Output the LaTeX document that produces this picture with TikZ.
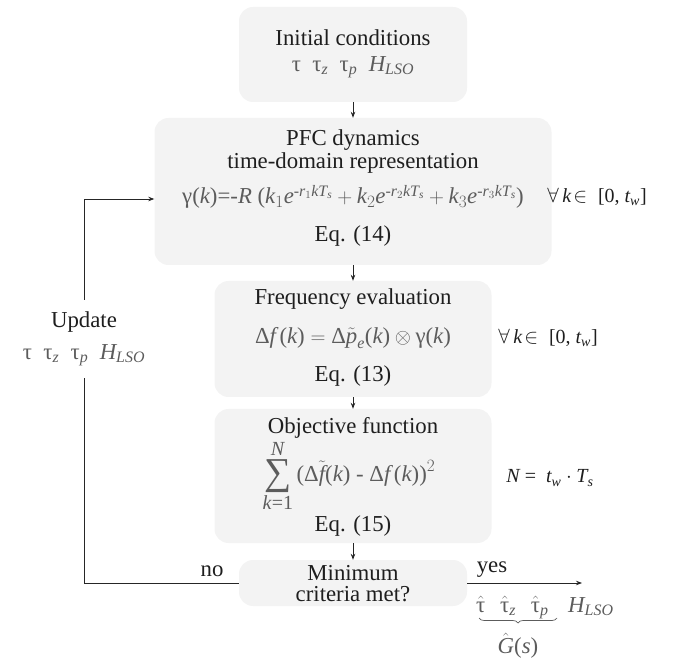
\documentclass[tikz,border=0pt]{standalone}
\usepackage{amsmath}
\usepackage{fontspec}
\setmainfont{Liberation Serif}
\usetikzlibrary{arrows.meta,decorations.pathreplacing}
\definecolor{boxfill}{HTML}{F3F3F3}
\definecolor{mathgray}{HTML}{5C5C5C}
\definecolor{txt}{HTML}{1E1E1E}
\newcommand{\mi}[1]{\textit{#1}}
\newcommand{\up}[1]{\text{#1}}
\newcommand{\sumlimtxt}[1]{\mbox{\fontsize{20}{20}\selectfont#1}}
\newcommand{\bigsum}{\mathop{\vcenter{\hbox{\fontsize{38}{38}\selectfont ∑}}}\limits}
\begin{document}
\begin{tikzpicture}[x=1pt,y=-1pt,
  font=\fontsize{22.8}{25}\selectfont,
  box/.style={fill=boxfill, rounded corners=14pt, draw=none, inner sep=0pt},
  ttl/.style={text=txt, inner sep=0pt},
  eqn/.style={text=mathgray, inner sep=0pt},
  side/.style={text=txt, inner sep=0pt, font=\fontsize{20}{22}\selectfont},
  conn/.style={draw=black!85, line width=0.8pt},
  arr/.style={conn, -{Stealth[length=6pt,width=4.5pt]}}]
\useasboundingbox (0,0) rectangle (678,660);
% boxes
\node[box, minimum width=228pt, minimum height=95pt]  (b1) at (353,54.5) {};
\node[box, minimum width=397pt, minimum height=147pt] (b2) at (353,191.5) {};
\node[box, minimum width=277pt, minimum height=116pt] (b3) at (353,339) {};
\node[box, minimum width=277pt, minimum height=134pt] (b4) at (353,476) {};
\node[box, minimum width=228pt, minimum height=46pt]  (b5) at (353,583) {};
% box 1
\node[ttl] (t1a) at (353,38) {Initial conditions};
\node[eqn] (t1b) at (353,67) {$\up{τ}\ \ \up{τ}_{\mi{z}}\ \ \up{τ}_{\mi{p}}\ \ \mi{H}_{\mi{LSO}}$};
% box 2
\node[ttl] (t2a) at (353,140) {PFC dynamics};
\node[ttl] (t2b) at (353,163) {time-domain representation};
\node[eqn] (t2c) at (353,197) {$\up{γ(}\mi{k}\up{)=-}\mi{R}\ \up{(}\mi{k}_1\mi{e}^{\up{-}\mi{r}_1\mi{kT}_{\mi{s}}}+\mi{k}_2\mi{e}^{\up{-}\mi{r}_2\mi{kT}_{\mi{s}}}+\mi{k}_3\mi{e}^{\up{-}\mi{r}_3\mi{kT}_{\mi{s}}}\up{)}$};
\node[ttl] (t2d) at (353,236) {Eq. (14)};
\node[side] (f2) at (597,197) {$\forall\,\mi{k}\!\in\ \up{[0,}\ \mi{t}_{\mi{w}}\up{]}$};
% box 3
\node[ttl] (t3a) at (353,299) {Frequency evaluation};
\node[eqn] (t3b) at (353,338) {$\up{Δ}\mi{f}\,\up{(}\mi{k}\up{)} = \up{Δ}\tilde{\mi{p}}_{\mi{e}}\up{(}\mi{k}\up{)} \otimes \up{γ(}\mi{k}\up{)}$};
\node[ttl] (t3c) at (353,376) {Eq. (13)};
\node[side] (f3) at (548,338) {$\forall\,\mi{k}\!\in\ \up{[0,}\ \mi{t}_{\mi{w}}\up{]}$};
% box 4
\node[ttl] (t4a) at (353,428) {Objective function};
\node[eqn] (t4b) at (349,476) {$\bigsum^{\sumlimtxt{\mi{N}}}_{\sumlimtxt{\mi{k}=1}}\up{(}\up{Δ}\tilde{\mi{f}}\up{(}\mi{k}\up{)}\ \up{-}\ \up{Δ}\mi{f}\,\up{(}\mi{k}\up{))}^2$};
\node[ttl] (t4c) at (353,526) {Eq. (15)};
\node[side] (n4) at (550,478) {$\mi{N}\up{ =}\ \ \mi{t}_{\mi{w}}\cdot\mi{T}_{\mi{s}}$};
% box 5
\node[ttl] (t5a) at (353,573) {Minimum};
\node[ttl] (t5b) at (353,594) {criteria met?};
% update
\node[ttl] (u1) at (84,322) {Update};
\node[eqn] (u2) at (84,355) {$\up{τ}\ \ \up{τ}_{\mi{z}}\ \ \up{τ}_{\mi{p}}\ \ \mi{H}_{\mi{LSO}}$};
% labels
\node[ttl] (no) at (212,571) {no};
\node[ttl] (yes) at (492,570) {yes};
\node[eqn, anchor=base west] (outt) at (476,612) {$\hat{\up{τ}}\ \ \,\hat{\up{τ}}_{\mi{z}}\ \ \,\hat{\up{τ}}_{\mi{p}}$};
\node[eqn, anchor=base west] (outh) at (568,612) {$\mi{H}_{\mi{LSO}}$};
\node[eqn] (gs) at (518,646) {$\hat{\mi{G}}\up{(}\mi{s}\up{)}$};
\draw[mathgray, line width=0.7pt, decorate, decoration={brace, mirror, amplitude=5pt}] (479,618) -- (557,618);
% coordinates
\coordinate (c1) at (84,583);
\coordinate (c2) at (84,378);
\coordinate (c3) at (84,300);
\coordinate (c4) at (84,199);
\coordinate (c5) at (582,583);
% connectors
\draw[arr] (b1.south) -- (b2.north);
\draw[arr] (b2.south) -- (b3.north);
\draw[arr] (b3.south) -- (b4.north);
\draw[arr] (b4.south) -- (b5.north);
\draw[conn] (b5.west) -- (c1) -- (c2);
\draw[arr] (c3) -- (c4) -- (c4 -| b2.west);
\draw[arr] (b5.east) -- (c5);
\end{tikzpicture}
\end{document}
